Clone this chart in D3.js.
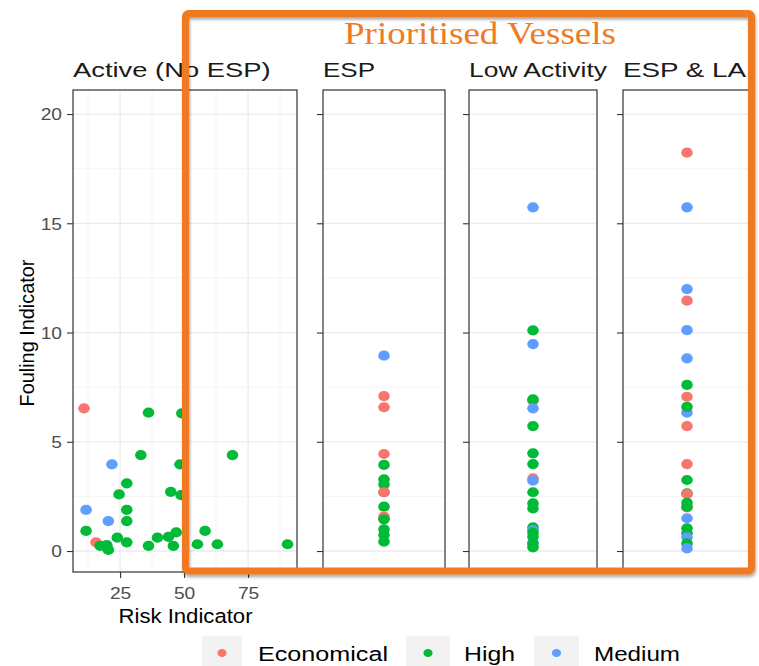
<!DOCTYPE html>
<html>
<head>
<meta charset="utf-8">
<script src="https://cdn.jsdelivr.net/npm/d3@7"></script>
<style>
  html, body { margin: 0; padding: 0; background: #fff; }
  svg { display: block; }
</style>
</head>
<body>
<div id="chart"></div>
<script>
// Risk groups and their colours
const riskGroups = ["Economical", "High", "Medium"];
const groupColors = ["#F8766D", "#00BA38", "#619CFF"];

// Facet names
const facetNames = ["Active (No ESP)", "ESP", "Low Activity", "ESP & LA"];

// Active (No ESP) vessels: risk indicator, fouling indicator, group
const activeRisk = [10.9, 36.1, 49.1, 21.8, 33.1, 68.9, 48.4, 27.6, 24.6, 44.8, 48.8,
  11.7, 27.6, 27.6, 20.4, 11.7, 15.6, 17.2, 19.8, 20.4, 23.9, 27.6, 36.1, 39.6,
  43.9, 46.9, 45.8, 55.2, 58.2, 63.0, 90.4];
const activeFouling = [6.53, 6.33, 6.30, 3.97, 4.39, 4.39, 3.97, 3.10, 2.59, 2.71, 2.56,
  1.88, 1.88, 1.37, 1.37, 0.92, 0.40, 0.24, 0.27, 0.05, 0.61, 0.40, 0.24, 0.61,
  0.65, 0.85, 0.24, 0.31, 0.92, 0.31, 0.31];
const activeGroup = ["Economical", "High", "High", "Medium", "High", "High", "High", "High", "High", "High", "High",
  "Medium", "High", "High", "Medium", "High", "Economical", "High", "High", "High", "High", "High", "High", "High",
  "High", "High", "High", "High", "High", "High", "High"];

// ESP vessels
const espFouling = [8.94, 7.09, 6.58, 4.44, 3.94, 3.28, 3.05, 2.69, 2.69, 2.03, 1.57, 1.45, 0.99, 0.73, 0.43];
const espGroup = ["Medium", "Economical", "Economical", "Economical", "High", "High", "High", "High",
  "Economical", "High", "Economical", "High", "High", "High", "High"];

// Low activity vessels
const lowFouling = [15.73, 10.10, 9.47, 6.88, 6.94, 6.53, 5.72, 4.47, 3.98, 3.33, 3.22, 2.69, 2.18,
  1.95, 1.08, 0.96, 0.84, 0.40, 0.65, 0.32, 0.17];
const lowGroup = ["Medium", "High", "Medium", "Economical", "High", "Medium", "High", "High", "High",
  "Economical", "Medium", "High", "High", "High", "High", "Medium", "High", "Medium", "High", "High", "High"];

// ESP & low activity vessels
const espLaFouling = [18.23, 15.73, 11.99, 11.46, 10.11, 8.82, 7.60, 7.06, 6.33, 6.60, 5.72, 3.98,
  3.25, 2.64, 2.60, 2.21, 2.00, 2.03, 1.50, 1.04, 0.81, 0.63, 0.35, 0.12];
const espLaGroup = ["Economical", "Medium", "Medium", "Economical", "Medium", "Medium", "High", "Economical",
  "Medium", "High", "Economical", "Economical", "High", "High", "Economical", "High", "Economical", "High",
  "Medium", "High", "High", "Medium", "High", "Medium"];

// Axis ticks
const yTicks = [0, 5, 10, 15, 20];
const yMinor = [2.5, 7.5, 12.5, 17.5];
const xTicks = [25, 50, 75];
const xMinor = [12.5, 37.5, 62.5, 87.5];

const W = 759, H = 666;
const TXT_SX = 1.2;           // horizontal stretch of the rendered type
const FONT = "'Liberation Sans', Arial, sans-serif";

const svg = d3.select("#chart").append("svg")
  .attr("width", W).attr("height", H)
  .attr("viewBox", `0 0 ${W} ${H}`);

const defs = svg.append("defs");
const shadow = defs.append("filter").attr("id", "boxShadow")
  .attr("x", "-5%").attr("y", "-5%").attr("width", "110%").attr("height", "110%");
shadow.append("feDropShadow").attr("dx", 1).attr("dy", 2.5).attr("stdDeviation", 1.5)
  .attr("flood-color", "#000").attr("flood-opacity", 0.35);

const clip = defs.append("clipPath").attr("id", "pageClip");
clip.append("rect").attr("x", 0).attr("y", 0).attr("width", 752).attr("height", H);

const color = d3.scaleOrdinal().domain(riskGroups).range(groupColors);

const plotTop = 90, plotBottom = 572;
const y = d3.scaleLinear().domain([-0.96, 21.1]).range([plotBottom, plotTop]);

const panels = [
  { name: facetNames[0], left: 73, right: 297, titleLen: 197.5 },
  { name: facetNames[1], left: 323, right: 445, titleLen: 52 },
  { name: facetNames[2], left: 469, right: 597, titleLen: 138 },
  { name: facetNames[3], left: 623, right: 751, titleLen: 123 }
];

const xActive = d3.scaleLinear().domain([6.6, 94.1]).range([panels[0].left, panels[0].right]);

const root = svg.append("g").attr("clip-path", "url(#pageClip)");

function drawPanel(p, i) {
  const g = root.append("g");
  const w = p.right - p.left;

  // background + grid
  g.append("rect").attr("x", p.left).attr("y", plotTop)
    .attr("width", w).attr("height", plotBottom - plotTop).attr("fill", "#fff");

  g.selectAll(".ymin").data(yMinor).join("line")
    .attr("x1", p.left).attr("x2", p.right)
    .attr("y1", d => y(d)).attr("y2", d => y(d))
    .attr("stroke", "#f3f3f3").attr("stroke-width", 0.9);
  if (i === 0) {
    g.selectAll(".xmin").data(xMinor).join("line")
      .attr("x1", d => xActive(d)).attr("x2", d => xActive(d))
      .attr("y1", plotTop).attr("y2", plotBottom)
      .attr("stroke", "#f3f3f3").attr("stroke-width", 0.9);
    g.selectAll(".xmaj").data(xTicks).join("line")
      .attr("x1", d => xActive(d)).attr("x2", d => xActive(d))
      .attr("y1", plotTop).attr("y2", plotBottom)
      .attr("stroke", "#ebebeb").attr("stroke-width", 1.3);
  }
  g.selectAll(".ymaj").data(yTicks).join("line")
    .attr("x1", p.left).attr("x2", p.right)
    .attr("y1", d => y(d)).attr("y2", d => y(d))
    .attr("stroke", "#ebebeb").attr("stroke-width", 1.3);

  // y axis (labels only on the first panel)
  const yAxis = d3.axisLeft(y).tickValues(yTicks).tickSize(6).tickSizeOuter(0);
  const ya = g.append("g").attr("transform", `translate(${p.left},0)`).call(yAxis);
  ya.select(".domain").remove();
  ya.selectAll(".tick line").attr("stroke", "#333").attr("stroke-width", 1.1);
  if (i === 0) {
    ya.selectAll(".tick text")
      .attr("x", 0).attr("dy", "0.36em")
      .attr("transform", `translate(-11,0) scale(${TXT_SX},1)`)
      .attr("fill", "#4d4d4d").attr("font-size", 16).attr("font-family", FONT);
  } else {
    ya.selectAll(".tick text").remove();
  }

  // x axis on the first panel
  if (i === 0) {
    const xAxis = d3.axisBottom(xActive).tickValues(xTicks).tickSize(6).tickSizeOuter(0);
    const xa = g.append("g").attr("transform", `translate(0,${plotBottom})`).call(xAxis);
    xa.select(".domain").remove();
    xa.selectAll(".tick line").attr("stroke", "#333").attr("stroke-width", 1.1);
    xa.selectAll(".tick text")
      .attr("y", 27.5).attr("dy", 0)
      .attr("transform", `scale(${TXT_SX},1)`)
      .attr("fill", "#4d4d4d").attr("font-size", 16).attr("font-family", FONT);
  }

  // strip title
  g.append("text").attr("x", p.left).attr("y", 77)
    .attr("font-family", FONT).attr("font-size", 21).attr("fill", "#1a1a1a")
    .attr("textLength", p.titleLen).attr("lengthAdjust", "spacingAndGlyphs")
    .text(p.name);

  return g;
}

const panelGroups = panels.map(drawPanel);

const PR_X = 5.8, PR_Y = 5.1;

// Active panel points
const activeData = activeRisk.map((r, k) => ({ x: r, y: activeFouling[k], group: activeGroup[k] }));
panelGroups[0].append("g").selectAll("ellipse").data(activeData).join("ellipse")
  .attr("cx", d => xActive(d.x)).attr("cy", d => y(d.y))
  .attr("rx", PR_X).attr("ry", PR_Y).attr("fill", d => color(d.group));

// Single-column panels
const columnSets = [
  { fouling: espFouling, group: espGroup },
  { fouling: lowFouling, group: lowGroup },
  { fouling: espLaFouling, group: espLaGroup }
];
columnSets.forEach((set, k) => {
  const p = panels[k + 1];
  const xc = d3.scalePoint().domain([p.name]).range([p.left, p.right]).padding(0.5);
  const data = set.fouling.map((v, j) => ({ y: v, group: set.group[j] }));
  panelGroups[k + 1].append("g").selectAll("ellipse").data(data).join("ellipse")
    .attr("cx", xc(p.name)).attr("cy", d => y(d.y))
    .attr("rx", PR_X).attr("ry", PR_Y).attr("fill", d => color(d.group));
});

// Panel borders on top
panels.forEach(p => {
  root.append("rect").attr("x", p.left).attr("y", plotTop)
    .attr("width", p.right - p.left).attr("height", plotBottom - plotTop)
    .attr("fill", "none").attr("stroke", "#333").attr("stroke-width", 1.2);
});

// Axis titles
svg.append("text")
  .attr("transform", `translate(33.5,333) rotate(-90)`)
  .attr("text-anchor", "middle")
  .attr("font-family", FONT).attr("font-size", 19.5).attr("fill", "#000")
  .attr("textLength", 147).attr("lengthAdjust", "spacingAndGlyphs")
  .text("Fouling Indicator");

svg.append("text").attr("x", 118.5).attr("y", 622.5)
  .attr("font-family", FONT).attr("font-size", 20).attr("fill", "#000")
  .attr("textLength", 134).attr("lengthAdjust", "spacingAndGlyphs")
  .text("Risk Indicator");

// Legend
const legendItems = [
  { key: riskGroups[0], boxX: 202, boxW: 40, textX: 258, textLen: 130 },
  { key: riskGroups[1], boxX: 406, boxW: 44, textX: 464, textLen: 51 },
  { key: riskGroups[2], boxX: 534, boxW: 45, textX: 594, textLen: 86 }
];
const lg = svg.append("g");
legendItems.forEach(it => {
  lg.append("rect").attr("x", it.boxX).attr("y", 636).attr("width", it.boxW).attr("height", 34)
    .attr("fill", "#f2f2f2");
  lg.append("ellipse").attr("cx", it.boxX + it.boxW / 2).attr("cy", 653)
    .attr("rx", 4.6).attr("ry", 4).attr("fill", color(it.key));
  lg.append("text").attr("x", it.textX).attr("y", 661)
    .attr("font-family", FONT).attr("font-size", 20).attr("fill", "#000")
    .attr("textLength", it.textLen).attr("lengthAdjust", "spacingAndGlyphs")
    .text(it.key);
});

// Highlight frame around the prioritised groups
const accent = "#F07A22";
svg.append("rect")
  .attr("x", 185.5).attr("y", 13.5).attr("width", 566).attr("height", 557.5)
  .attr("rx", 3).attr("ry", 3)
  .attr("fill", "none").attr("stroke", accent).attr("stroke-width", 7)
  .attr("filter", "url(#boxShadow)");

svg.append("text").attr("x", 344).attr("y", 44)
  .attr("font-family", "'Liberation Serif', 'Times New Roman', serif")
  .attr("font-size", 32).attr("fill", accent)
  .attr("textLength", 272).attr("lengthAdjust", "spacingAndGlyphs")
  .text("Prioritised Vessels");
</script>
</body>
</html>
